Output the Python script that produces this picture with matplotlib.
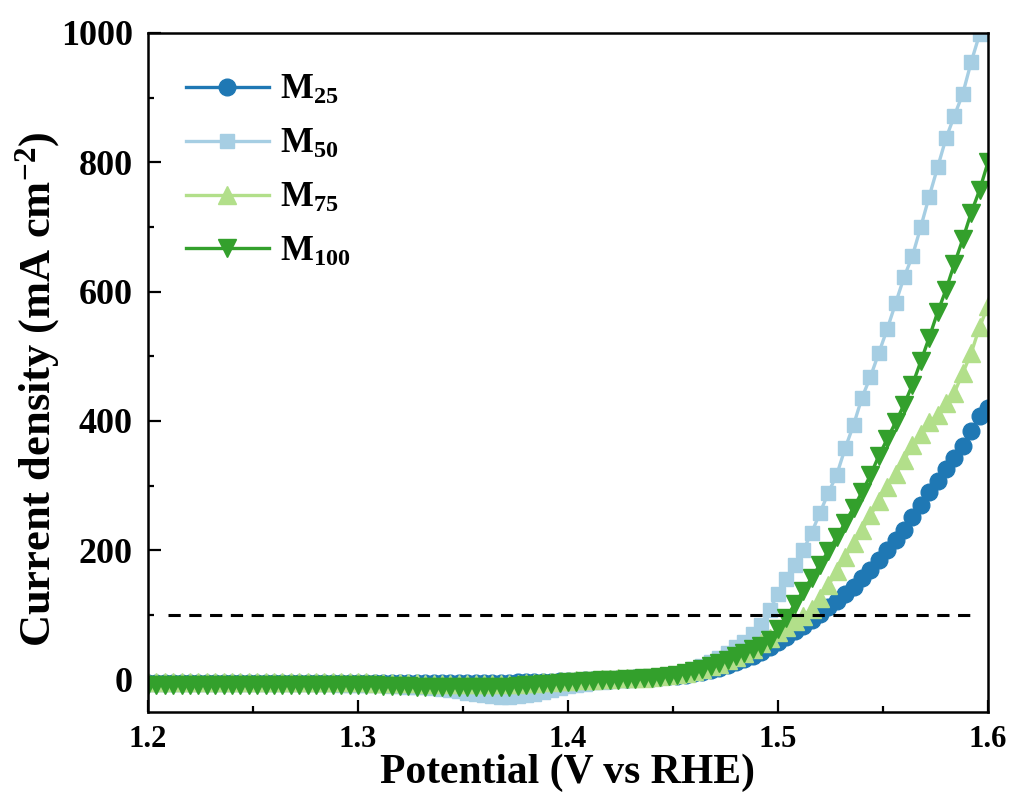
import matplotlib
matplotlib.use("Agg")
import matplotlib.pyplot as plt
from matplotlib.ticker import MultipleLocator

plt.rcParams['font.family'] = ['Liberation Serif', 'DejaVu Serif']
plt.rcParams['font.weight'] = 'bold'
plt.rcParams['mathtext.fontset'] = 'custom'
plt.rcParams['mathtext.rm'] = 'Liberation Serif:bold'
plt.rcParams['mathtext.it'] = 'Liberation Serif:bold'
plt.rcParams['mathtext.bf'] = 'Liberation Serif:bold'

# potential sweep (V vs RHE)
potential = [
    1.200, 1.204, 1.208, 1.212, 1.216, 1.220, 1.224, 1.228, 1.232, 1.236,
    1.240, 1.244, 1.248, 1.252, 1.256, 1.260, 1.264, 1.268, 1.272, 1.276,
    1.280, 1.284, 1.288, 1.292, 1.296, 1.300, 1.304, 1.308, 1.312, 1.316,
    1.320, 1.324, 1.328, 1.332, 1.336, 1.340, 1.344, 1.348, 1.352, 1.356,
    1.360, 1.364, 1.368, 1.372, 1.376, 1.380, 1.384, 1.388, 1.392, 1.396,
    1.400, 1.404, 1.408, 1.412, 1.416, 1.420, 1.424, 1.428, 1.432, 1.436,
    1.440, 1.444, 1.448, 1.452, 1.456, 1.460, 1.464, 1.468, 1.472, 1.476,
    1.480, 1.484, 1.488, 1.492, 1.496, 1.500, 1.504, 1.508, 1.512, 1.516,
    1.520, 1.524, 1.528, 1.532, 1.536, 1.540, 1.544, 1.548, 1.552, 1.556,
    1.560, 1.564, 1.568, 1.572, 1.576, 1.580, 1.584, 1.588, 1.592, 1.596,
    1.600,
]

# current density (mA cm-2)
m25 = [
    -5, -5, -5, -5, -5, -5, -5, -5, -5, -5,
    -5, -5, -5, -5, -5, -5, -5, -5, -5, -5,
    -5, -5, -5, -5, -5, -5, -5, -5, -5, -5,
    -5, -5, -5, -5, -5, -5, -5, -5, -5, -5,
    -5, -5, -5, -5, -4, -4, -4, -3, -3, -2,
    -2, -2, -1, -1, 0, 0, 1, 1, 2, 2,
    3, 4, 5, 6, 8, 10, 12, 15, 18, 22,
    27, 32, 37, 43, 50, 58, 66, 75, 83, 92,
    102, 112, 122, 133, 144, 157, 170, 185, 200, 216,
    232, 252, 270, 290, 307, 326, 343, 362, 385, 408,
    420,
]
m50 = [
    -7, -7, -7, -7, -7, -7, -7, -7, -7, -7,
    -7, -7, -7, -7, -7, -7, -7, -7, -7, -7,
    -7, -7, -7, -8, -8, -8, -8, -9, -9, -10,
    -10, -11, -11, -12, -13, -14, -16, -18, -20, -22,
    -24, -26, -27, -27, -26, -24, -22, -19, -16, -13,
    -10, -8, -6, -4, -3, -2, -1, 0, 1, 2,
    3, 5, 7, 9, 12, 16, 21, 27, 34, 42,
    50, 58, 70, 84, 108, 132, 156, 178, 200, 227,
    258, 289, 317, 358, 394, 436, 468, 505, 542, 582,
    622, 655, 700, 747, 792, 837, 872, 906, 955, 998,
    1045,
]
m75 = [
    -4, -4, -4, -4, -4, -4, -4, -4, -4, -4,
    -4, -4, -4, -4, -4, -4, -4, -4, -4, -4,
    -4, -4, -4, -4, -4, -4, -4, -5, -5, -5,
    -5, -5, -5, -6, -6, -6, -7, -7, -7, -7,
    -7, -7, -7, -6, -6, -5, -5, -4, -3, -2,
    -2, -1, 0, 0, 1, 1, 2, 2, 3, 3,
    4, 5, 7, 9, 11, 14, 17, 21, 25, 30,
    35, 41, 48, 56, 65, 74, 82, 90, 98, 110,
    126, 146, 168, 190, 211, 232, 254, 276, 298, 318,
    339, 363, 380, 398, 410, 428, 444, 474, 505, 545,
    578,
]
m100 = [
    -8, -8, -8, -8, -8, -8, -8, -8, -8, -8,
    -8, -8, -8, -8, -8, -8, -8, -8, -8, -8,
    -8, -8, -8, -8, -9, -9, -9, -9, -10, -10,
    -10, -10, -11, -11, -11, -12, -12, -12, -12, -12,
    -12, -12, -11, -11, -10, -9, -8, -7, -6, -5,
    -4, -3, -2, -2, -1, 0, 0, 1, 1, 2,
    2, 4, 6, 8, 10, 13, 17, 21, 26, 31,
    36, 42, 48, 52, 62, 78, 96, 117, 137, 157,
    178, 199, 220, 243, 266, 290, 316, 346, 372, 398,
    425, 456, 492, 529, 568, 603, 643, 681, 722, 757,
    800,
]

series = [
    (m25, 'M$_{25}$', '#1f78b4', 'o', 12),
    (m50, 'M$_{50}$', '#a6cee3', 's', 10),
    (m75, 'M$_{75}$', '#b2df8a', '^', 13),
    (m100, 'M$_{100}$', '#33a02c', 'v', 13),
]

fig = plt.figure(figsize=(10.18, 8.08), dpi=100)
ax = fig.add_axes([0.1454, 0.1188, 0.8251, 0.8404])

for vals, lab, col, mk, ms in series:
    ax.plot(potential, vals, color=col, marker=mk, markersize=ms, lw=2.4, label=lab)

ax.axhline(100, color='black', lw=2.2, ls=(0, (4, 2.8)), xmin=0.024, xmax=0.985)

ax.set_xlim(1.2, 1.6)
ax.set_ylim(-50, 1000)
ax.xaxis.set_major_locator(MultipleLocator(0.1))
ax.xaxis.set_minor_locator(MultipleLocator(0.05))
ax.yaxis.set_major_locator(MultipleLocator(200))
ax.yaxis.set_minor_locator(MultipleLocator(100))
ax.tick_params(which='both', direction='in', width=1.6)
ax.tick_params(which='major', length=9)
ax.tick_params(which='minor', length=4.5)
ax.tick_params(axis='x', pad=9, labelsize=22)
ax.tick_params(axis='y', pad=11, labelsize=26)
for s in ax.spines.values():
    s.set_linewidth(1.8)

ax.set_xlabel('Potential (V vs RHE)', fontsize=30, fontweight='bold', labelpad=0)
ax.set_ylabel('Current density (mA cm$^{-2}$)', fontsize=32, fontweight='bold')
ax.yaxis.set_label_coords(-0.103, 0.475)

ax.legend(loc='upper left', bbox_to_anchor=(0.045, 0.94), frameon=False, fontsize=25,
          handlelength=2.4, handletextpad=0.3, labelspacing=0.6, borderpad=0, borderaxespad=0)

fig.savefig('out.png', dpi=100)
